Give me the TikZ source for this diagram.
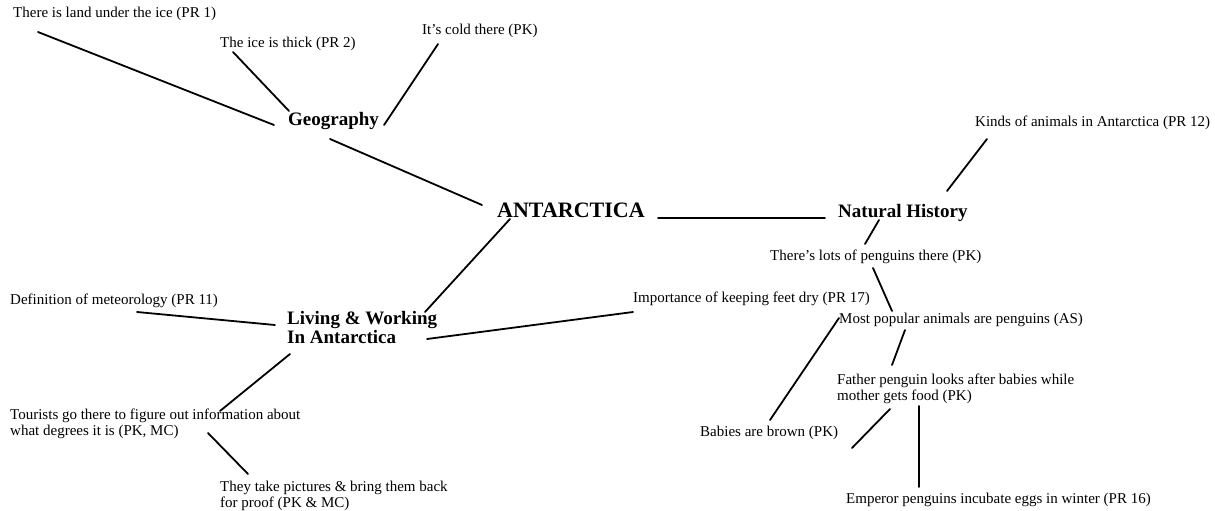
\documentclass[tikz,border=0pt]{standalone}
\usepackage{fontspec}
\setmainfont{Liberation Serif}
\begin{document}
\begin{tikzpicture}[x=1pt,y=-1pt,
  leaf/.style={anchor=west,inner sep=0pt,align=left,font=\fontsize{15}{16.5}\selectfont},
  topic/.style={anchor=west,inner sep=0pt,align=left,font=\fontsize{19}{19.5}\selectfont\bfseries},
  hub/.style={anchor=west,inner sep=0pt,font=\fontsize{22}{24}\selectfont\bfseries},
  link/.style={line width=1.8pt,line cap=round}]
\useasboundingbox (0,0) rectangle (1215,511);

% central topic and the three branches
\node[hub]   (ant)  at (497,210) {ANTARCTICA};
\node[topic] (geo)  at (288,121) {Geography};
\node[topic] (nat)  at (838,213) {Natural History};
\node[topic] (liv)  at (287,327.5) {Living \& Working\\In Antarctica};

% geography facts
\node[leaf] (pr1)  at (13,14)  {There is land under the ice (PR 1)};
\node[leaf] (pr2)  at (220,44) {The ice is thick (PR 2)};
\node[leaf] (cold) at (422,31) {It's cold there (PK)};

% natural history facts
\node[leaf] (kinds)   at (975,123) {Kinds of animals in Antarctica (PR 12)};
\node[leaf] (lots)    at (770,257) {There's lots of penguins there (PK)};
\node[leaf] (most)    at (839,320) {Most popular animals are penguins (AS)};
\node[leaf] (father)  at (837,389) {Father penguin looks after babies while\\mother gets food (PK)};
\node[leaf] (babies)  at (700,433) {Babies are brown (PK)};
\node[leaf] (emperor) at (846,500) {Emperor penguins incubate eggs in winter (PR 16)};

% living & working facts
\node[leaf] (imp)  at (633,299) {Importance of keeping feet dry (PR 17)};
\node[leaf] (def)  at (10,301)  {Definition of meteorology (PR 11)};
\node[leaf] (tour) at (10,424)  {Tourists go there to figure out information about\\what degrees it is (PK, MC)};
\node[leaf] (pics) at (220,496) {They take pictures \& bring them back\\for proof (PK \& MC)};

% connectors
\draw[link] ([shift={(25,18)}]pr1.west)   -- ([shift={(-14,4)}]geo.west);
\draw[link] ([shift={(13,8)}]pr2.west)    -- ([shift={(1,-10)}]geo.west);
\draw[link] ([shift={(16,13)}]cold.west)  -- ([shift={(96,4)}]geo.west);
\draw[link] ([shift={(42,18)}]geo.west)   -- ([shift={(-15,-5)}]ant.west);
\draw[link] ([shift={(13,9)}]ant.west)    -- ([shift={(138,-15.5)}]liv.west);
\draw[link] ([shift={(161,8)}]ant.west)   -- ([shift={(-13,5)}]nat.west);
\draw[link] ([shift={(109,-22)}]nat.west) -- ([shift={(12,16)}]kinds.west);
\draw[link] ([shift={(41,7)}]nat.west)    -- ([shift={(95,-13)}]lots.west);
\draw[link] ([shift={(103,11)}]lots.west) -- ([shift={(53,-9)}]most.west);
\draw[link] ([shift={(66,10)}]most.west)  -- ([shift={(55,-24)}]father.west);
\draw[link] ([shift={(0,-2)}]most.west)   -- ([shift={(70,-13)}]babies.west);
\draw[link] ([shift={(152,15)}]babies.west) -- ([shift={(53,20)}]father.west);
\draw[link] ([shift={(82,17)}]father.west) -- ([shift={(73,-13)}]emperor.west);
\draw[link] ([shift={(127,11)}]def.west)  -- ([shift={(-12,-2.5)}]liv.west);
\draw[link] ([shift={(140,11.5)}]liv.west) -- ([shift={(0,13)}]imp.west);
\draw[link] ([shift={(3,26.5)}]liv.west)  -- ([shift={(210,-13)}]tour.west);
\draw[link] ([shift={(198,9)}]tour.west)  -- ([shift={(28,-22)}]pics.west);
\end{tikzpicture}
\end{document}
